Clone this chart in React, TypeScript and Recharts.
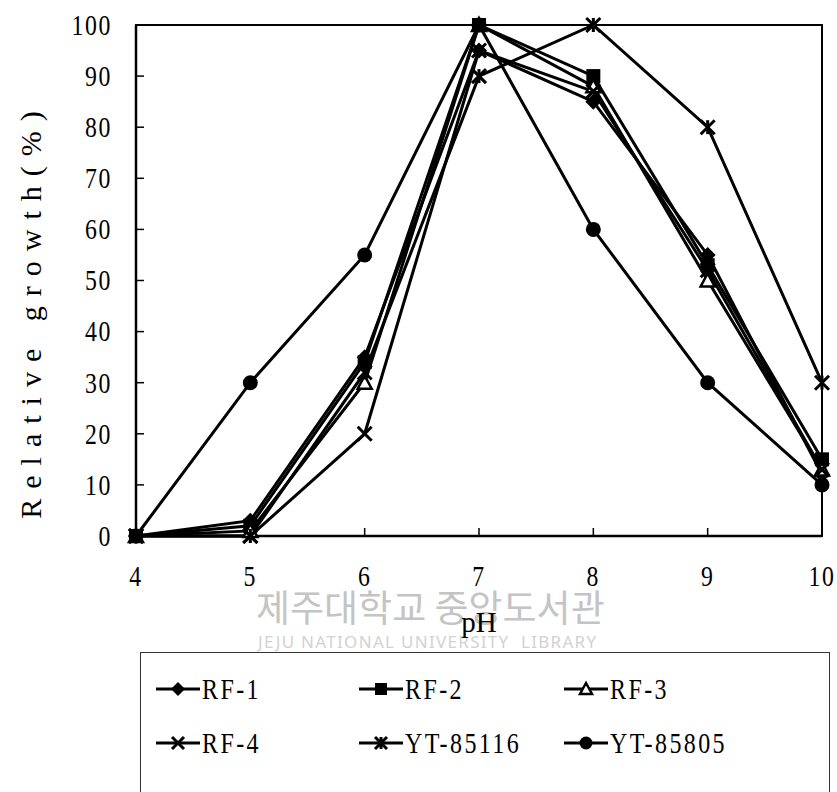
import React from 'react'
import { Line, LineChart, ReferenceArea, XAxis, YAxis } from 'recharts'

const phValues = [4, 5, 6, 7, 8, 9, 10]
const rf1 = [0, 3, 35, 95, 85, 55, 12]
const rf2 = [0, 2, 34, 100, 90, 53, 15]
const rf3 = [0, 1, 30, 100, 88, 50, 13]
const rf4 = [0, 0, 20, 95, 87, 52, 13]
const yt85116 = [0, 0, 32, 90, 100, 80, 30]
const yt85805 = [0, 30, 55, 100, 60, 30, 10]
const yTicks = [0, 10, 20, 30, 40, 50, 60, 70, 80, 90, 100]

type Kind = 'diamond' | 'square' | 'triangle' | 'x' | 'star' | 'circle'

const series: { key: string; name: string; kind: Kind; values: number[] }[] = [
  { key: 'rf1', name: 'RF-1', kind: 'diamond', values: rf1 },
  { key: 'rf2', name: 'RF-2', kind: 'square', values: rf2 },
  { key: 'rf3', name: 'RF-3', kind: 'triangle', values: rf3 },
  { key: 'rf4', name: 'RF-4', kind: 'x', values: rf4 },
  { key: 'yt85116', name: 'YT-85116', kind: 'star', values: yt85116 },
  { key: 'yt85805', name: 'YT-85805', kind: 'circle', values: yt85805 },
]

const data = phValues.map((p, i) => {
  const row: Record<string, number> = { pH: p }
  series.forEach((s) => (row[s.key] = s.values[i]))
  return row
})

const font = 'Tinos, "Liberation Serif", "Times New Roman", "DejaVu Serif", serif'

function Marker({ kind, cx, cy, s = 7 }: { kind: Kind; cx: number; cy: number; s?: number }) {
  switch (kind) {
    case 'diamond':
      return <polygon points={`${cx},${cy - s - 1} ${cx + s + 1},${cy} ${cx},${cy + s + 1} ${cx - s - 1},${cy}`} fill="#000" />
    case 'square':
      return <rect x={cx - s} y={cy - s} width={s * 2} height={s * 2} fill="#000" />
    case 'triangle':
      return (
        <polygon
          points={`${cx},${cy - s} ${cx + s},${cy + s - 1} ${cx - s},${cy + s - 1}`}
          fill="#fff"
          stroke="#000"
          strokeWidth={2.5}
        />
      )
    case 'x':
      return (
        <g stroke="#000" strokeWidth={3}>
          <line x1={cx - s} y1={cy - s} x2={cx + s} y2={cy + s} />
          <line x1={cx - s} y1={cy + s} x2={cx + s} y2={cy - s} />
        </g>
      )
    case 'star':
      return (
        <g stroke="#000" strokeWidth={3}>
          <line x1={cx - s} y1={cy - s} x2={cx + s} y2={cy + s} />
          <line x1={cx - s} y1={cy + s} x2={cx + s} y2={cy - s} />
          <line x1={cx} y1={cy - s} x2={cx} y2={cy + s} />
        </g>
      )
    default:
      return <circle cx={cx} cy={cy} r={s + 0.5} fill="#000" />
  }
}

// condensed tick text, like the scanned figure
function YTick({ x, y, payload }: any) {
  return (
    <text
      transform={`translate(${x},${y}) scale(0.82,1)`}
      textAnchor="end"
      dominantBaseline="central"
      fontFamily={font}
      fontSize={29}
      letterSpacing={2}
      fill="#000"
    >
      {payload.value}
    </text>
  )
}

function XTick({ x, y, payload }: any) {
  return (
    <text
      transform={`translate(${x},${y}) scale(0.82,1)`}
      textAnchor="middle"
      dominantBaseline="central"
      fontFamily={font}
      fontSize={29}
      letterSpacing={2}
      fill="#000"
    >
      {payload.value}
    </text>
  )
}

function LegendBox() {
  const cols = [155, 358, 563]
  const rows = [688, 742]
  return (
    <div
      style={{
        position: 'absolute',
        left: 140,
        top: 652,
        width: 690,
        height: 150,
        border: '1.5px solid #333',
        boxSizing: 'border-box',
      }}
    >
      {series.map((s, i) => (
        <div
          key={s.key}
          style={{
            position: 'absolute',
            left: cols[i % 3] - 140,
            top: rows[Math.floor(i / 3)] - 652 - 17,
            height: 34,
            display: 'flex',
            alignItems: 'center',
            fontFamily: font,
            fontSize: 30,
            whiteSpace: 'nowrap',
          }}
        >
          <svg width={44} height={20} style={{ marginRight: 2 }}>
            <line x1={0} y1={10} x2={44} y2={10} stroke="#000" strokeWidth={3} />
            <Marker kind={s.kind} cx={22} cy={10} s={6} />
          </svg>
          <span style={{ display: 'inline-block', transform: 'scaleX(0.8)', transformOrigin: 'left center', letterSpacing: 3 }}>
            {s.name}
          </span>
        </div>
      ))}
    </div>
  )
}

export default function App() {
  return (
    <div style={{ position: 'absolute', left: 0, top: 0, width: 837, height: 792, background: '#fff', overflow: 'hidden' }}>
      <div
        style={{
          position: 'absolute',
          left: 256,
          top: 588,
          fontFamily: '"Noto Sans CJK KR", sans-serif',
          fontSize: 37,
          lineHeight: 1,
          color: '#c4c4c4',
          whiteSpace: 'nowrap',
        }}
      >
        제주대학교 중앙도서관
      </div>
      <div
        style={{
          position: 'absolute',
          left: 258,
          top: 633,
          fontFamily: '"Noto Sans", sans-serif',
          fontSize: 17,
          lineHeight: 1,
          letterSpacing: 1.3,
          color: '#d2d2d2',
          whiteSpace: 'nowrap',
        }}
      >
        JEJU NATIONAL UNIVERSITY&nbsp;&nbsp;LIBRARY
      </div>
      <div style={{ position: 'absolute', left: 0, top: 0 }}>
        <LineChart width={837} height={792} data={data} margin={{ top: 25, right: 15, left: 0, bottom: 166 }}>
          <ReferenceArea x1={4} x2={10} y1={0} y2={100} fill="none" stroke="#000" strokeWidth={2} ifOverflow="visible" />
          <XAxis
            dataKey="pH"
            type="number"
            domain={[4, 10]}
            ticks={phValues}
            height={90}
            tickSize={-8}
            tickMargin={48}
            axisLine={{ stroke: '#000', strokeWidth: 2.5 }}
            tickLine={{ stroke: '#000', strokeWidth: 1.5 }}
            tick={<XTick />}
            label={{ value: 'pH', position: 'insideBottom', offset: -6, fill: '#000', fontSize: 29, fontFamily: font }}
          />
          <YAxis
            type="number"
            domain={[0, 100]}
            ticks={yTicks}
            width={136}
            tickSize={-8}
            tickMargin={32}
            axisLine={{ stroke: '#000', strokeWidth: 2.5 }}
            tickLine={{ stroke: '#000', strokeWidth: 1.5 }}
            tick={<YTick />}
          />
          {series.map((s) => (
            <Line
              key={s.key}
              dataKey={s.key}
              name={s.name}
              stroke="#000"
              strokeWidth={3}
              isAnimationActive={false}
              dot={(p: any) => <Marker key={`${s.key}-${p.index}`} kind={s.kind} cx={p.cx} cy={p.cy} />}
              activeDot={false}
            />
          ))}
        </LineChart>
      </div>
      <svg width={60} height={560} style={{ position: 'absolute', left: 0, top: 0 }}>
        <text
          x={30}
          y={310}
          transform="rotate(-90 30 310)"
          textAnchor="middle"
          dominantBaseline="central"
          fontFamily={font}
          fontSize={30}
          letterSpacing={10}
          fill="#000"
        >
          Relative growth(%)
        </text>
      </svg>
      <LegendBox />
    </div>
  )
}
